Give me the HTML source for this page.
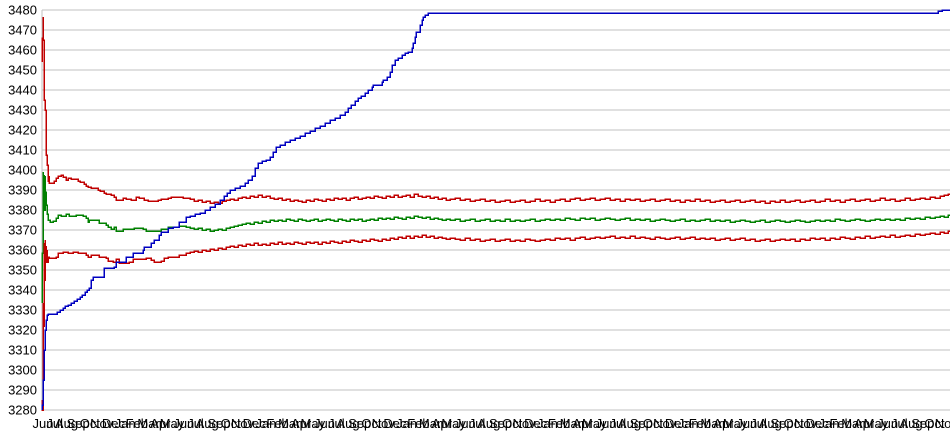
<!DOCTYPE html>
<html>
<head>
<meta charset="utf-8">
<style>
  html, body { margin:0; padding:0; background:#ffffff; }
  body { width:950px; height:435px; overflow:hidden; }
  svg { display:block; }
  .yl { font-family:"Liberation Sans", Arial, sans-serif; font-size:13px; fill:#000; }
  .xl { font-family:"Liberation Sans", Arial, sans-serif; font-size:13px; fill:#000; }
</style>
</head>
<body>
<svg width="950" height="435" viewBox="0 0 950 435" xmlns="http://www.w3.org/2000/svg">
  <rect x="0" y="0" width="950" height="435" fill="#ffffff"/>
  <g stroke="#c0c0c0" stroke-width="1" shape-rendering="crispEdges">
    <line x1="42" y1="10" x2="950" y2="10"/>
    <line x1="42" y1="30" x2="950" y2="30"/>
    <line x1="42" y1="50" x2="950" y2="50"/>
    <line x1="42" y1="70" x2="950" y2="70"/>
    <line x1="42" y1="90" x2="950" y2="90"/>
    <line x1="42" y1="110" x2="950" y2="110"/>
    <line x1="42" y1="130" x2="950" y2="130"/>
    <line x1="42" y1="150" x2="950" y2="150"/>
    <line x1="42" y1="170" x2="950" y2="170"/>
    <line x1="42" y1="190" x2="950" y2="190"/>
    <line x1="42" y1="210" x2="950" y2="210"/>
    <line x1="42" y1="230" x2="950" y2="230"/>
    <line x1="42" y1="250" x2="950" y2="250"/>
    <line x1="42" y1="270" x2="950" y2="270"/>
    <line x1="42" y1="290" x2="950" y2="290"/>
    <line x1="42" y1="310" x2="950" y2="310"/>
    <line x1="42" y1="330" x2="950" y2="330"/>
    <line x1="42" y1="350" x2="950" y2="350"/>
    <line x1="42" y1="370" x2="950" y2="370"/>
    <line x1="42" y1="390" x2="950" y2="390"/>
    <line x1="42" y1="410" x2="950" y2="410"/>
    <line x1="42" y1="10" x2="42" y2="410"/>
  </g>
  <g class="yl" text-anchor="end">
    <text x="37" y="14.5">3480</text>
    <text x="37" y="34.5">3470</text>
    <text x="37" y="54.5">3460</text>
    <text x="37" y="74.5">3450</text>
    <text x="37" y="94.5">3440</text>
    <text x="37" y="114.5">3430</text>
    <text x="37" y="134.5">3420</text>
    <text x="37" y="154.5">3410</text>
    <text x="37" y="174.5">3400</text>
    <text x="37" y="194.5">3390</text>
    <text x="37" y="214.5">3380</text>
    <text x="37" y="234.5">3370</text>
    <text x="37" y="254.5">3360</text>
    <text x="37" y="274.5">3350</text>
    <text x="37" y="294.5">3340</text>
    <text x="37" y="314.5">3330</text>
    <text x="37" y="334.5">3320</text>
    <text x="37" y="354.5">3310</text>
    <text x="37" y="374.5">3300</text>
    <text x="37" y="394.5">3290</text>
    <text x="37" y="414.5">3280</text>
  </g>
  <g class="xl" text-anchor="middle">
    <text x="43.0" y="428">Jun</text><text x="54.7" y="428">Jul</text><text x="66.5" y="428">Aug</text><text x="78.2" y="428">Sep</text><text x="89.9" y="428">Oct</text><text x="101.7" y="428">Nov</text><text x="113.4" y="428">Dec</text><text x="125.1" y="428">Jan</text><text x="136.8" y="428">Feb</text><text x="148.6" y="428">Mar</text><text x="160.3" y="428">Apr</text><text x="172.0" y="428">May</text>
    <text x="183.8" y="428">Jun</text><text x="195.5" y="428">Jul</text><text x="207.2" y="428">Aug</text><text x="219.0" y="428">Sep</text><text x="230.7" y="428">Oct</text><text x="242.4" y="428">Nov</text><text x="254.2" y="428">Dec</text><text x="265.9" y="428">Jan</text><text x="277.6" y="428">Feb</text><text x="289.3" y="428">Mar</text><text x="301.1" y="428">Apr</text><text x="312.8" y="428">May</text>
    <text x="324.5" y="428">Jun</text><text x="336.3" y="428">Jul</text><text x="348.0" y="428">Aug</text><text x="359.7" y="428">Sep</text><text x="371.5" y="428">Oct</text><text x="383.2" y="428">Nov</text><text x="394.9" y="428">Dec</text><text x="406.6" y="428">Jan</text><text x="418.4" y="428">Feb</text><text x="430.1" y="428">Mar</text><text x="441.8" y="428">Apr</text><text x="453.6" y="428">May</text>
    <text x="465.3" y="428">Jun</text><text x="477.0" y="428">Jul</text><text x="488.8" y="428">Aug</text><text x="500.5" y="428">Sep</text><text x="512.2" y="428">Oct</text><text x="524.0" y="428">Nov</text><text x="535.7" y="428">Dec</text><text x="547.4" y="428">Jan</text><text x="559.1" y="428">Feb</text><text x="570.9" y="428">Mar</text><text x="582.6" y="428">Apr</text><text x="594.3" y="428">May</text>
    <text x="606.1" y="428">Jun</text><text x="617.8" y="428">Jul</text><text x="629.5" y="428">Aug</text><text x="641.3" y="428">Sep</text><text x="653.0" y="428">Oct</text><text x="664.7" y="428">Nov</text><text x="676.4" y="428">Dec</text><text x="688.2" y="428">Jan</text><text x="699.9" y="428">Feb</text><text x="711.6" y="428">Mar</text><text x="723.4" y="428">Apr</text><text x="735.1" y="428">May</text>
    <text x="746.8" y="428">Jun</text><text x="758.6" y="428">Jul</text><text x="770.3" y="428">Aug</text><text x="782.0" y="428">Sep</text><text x="793.8" y="428">Oct</text><text x="805.5" y="428">Nov</text><text x="817.2" y="428">Dec</text><text x="828.9" y="428">Jan</text><text x="840.7" y="428">Feb</text><text x="852.4" y="428">Mar</text><text x="864.1" y="428">Apr</text><text x="875.9" y="428">May</text>
    <text x="887.6" y="428">Jun</text><text x="899.3" y="428">Jul</text><text x="911.1" y="428">Aug</text><text x="922.8" y="428">Sep</text><text x="934.5" y="428">Oct</text><text x="946.3" y="428">Nov</text>
  </g>

  <g fill="none" stroke-width="1.5" shape-rendering="crispEdges">
    <path stroke="#c00000" d="M42,62 V38 H43 V17 V40 H44 V100 H45 V110 H46 V113 V155 H47 V165 H48 V181 H49 V176 V183 H51 V183 H54 V181 H56 V178 H58 V176 H61 V175 H63 V177 H66 V180 H68 V178 H71 V179 H78 V181 H80 V182 H84 V184 H86 V186 H88 V187 H91 V188 H98 V190 H100 V191 H104 V193 H106 V194 H111 V195 H114 V197 H116 V200 H123 V198 H126 V199 H131 V200 H136 V197 H139 V198 H144 V200 H148 V201 H158 V200 H161 V199 H168 V198 H171 V197 H178 V197 H183 V198 H186 H190 V199 H194 V201 H198 V200 H202 V202 H206 V201 H210 V203 H214 V202 H218 V203 H222 V201 H226 V200 H230 V199 H234 V200 H238 V198 H242 V197 H246 V198 H250 V196 H254 V197 H258 V195 H262 V197 H266 V196 H270 V198 H274 V199 H278 V198 H282 V200 H286 V199 H290 V201 H294 V200 H298 V201 H302 V202 H306 V200 H310 V201 H314 V199 H318 V200 H322 V201 H326 V199 H330 V200 H334 V198 H338 V199 H342 V198 H346 V200 H350 V198 H354 V197 H358 V199 H362 V198 H366 V197 H370 V198 H374 V196 H378 V197 H382 V198 H386 V196 H390 V197 H394 V195 H398 V197 H402 V196 H406 V195 H410 V197 H414 V194 H418 V196 H422 V197 H426 V196 H430 V198 H434 V197 H438 V199 H442 V198 H446 V200 H450 V199 H455 V198 H460 V200 H465 V199 H470 V201 H475 V200 H480 V199 H485 V201 H490 V200 H495 V202 H500 V201 H505 V200 H510 V202 H515 V201 H520 V200 H525 V202 H530 V201 H535 V199 H540 V201 H545 V200 H550 V202 H555 V200 H560 V199 H565 V201 H570 V199 H575 V198 H580 V200 H585 V199 H590 V198 H595 V200 H600 V199 H605 V198 H610 V200 H615 V199 H620 V201 H625 V199 H630 V200 H635 V199 H640 V201 H645 V200 H650 V199 H655 V201 H660 V200 H665 V199 H670 V201 H675 V200 H680 V202 H685 V200 H690 V201 H695 V199 H700 V201 H705 V200 H710 V202 H715 V201 H720 V200 H725 V202 H730 V201 H735 V200 H740 V202 H745 V201 H750 V200 H755 V202 H760 V201 H765 V203 H770 V201 H775 V202 H780 V200 H785 V202 H790 V201 H795 V200 H800 V202 H805 V201 H810 V200 H815 V202 H820 V201 H825 V199 H830 V201 H835 V200 H840 V202 H845 V200 H850 V199 H855 V201 H860 V200 H865 V199 H870 V201 H875 V200 H880 V198 H885 V200 H890 V199 H895 V201 H900 V200 H905 V198 H910 V200 H915 V199 H920 V198 H925 V199 H930 V197 H935 V198 H940 V196 H944 V195 H948 V194 H950"/>
    <path stroke="#008000" d="M42,303 V253 H43 V172 V206 H44 V175 V210 H45 V176 V192 H46 V193 V205 H47 V206 V214 H48 V220 H50 V222 H53 V221 H56 V218 H58 V215 H61 V216 H63 V216 H66 V214 H69 V216 H76 V215 H83 V216 H86 V218 H88 V222 H89 V220 H98 V220 H99 V223 H106 V225 H108 V227 H111 V229 H114 V227 H116 V231 H123 V229 H129 V229 H134 V228 H139 V228 H143 V229 H146 V231 H158 V231 H161 V229 H168 V227 H176 V227 H179 V226 H186 V227 H190 V228 H194 V229 H198 V228 H202 V230 H206 V229 H210 V231 H214 V230 H218 V229 H222 V230 H226 V228 H230 V227 H234 V226 H238 V225 H242 V224 H246 V223 H250 V224 H254 V222 H258 V223 H262 V221 H266 V222 H270 V220 H274 V221 H278 V220 H282 V221 H286 V219 H290 V220 H294 V221 H298 V219 H302 V220 H306 V221 H310 V220 H314 V219 H318 V221 H322 V220 H326 V219 H330 V220 H334 V221 H338 V219 H342 V220 H346 V221 H350 V219 H354 V220 H358 V219 H362 V221 H366 V220 H370 V219 H374 V220 H378 V218 H382 V219 H386 V218 H390 V219 H394 V217 H398 V218 H402 V219 H406 V217 H410 V218 H414 V216 H418 V217 H422 V218 H426 V217 H430 V219 H434 V218 H438 V219 H442 V220 H446 V219 H450 V220 H455 V219 H460 V221 H465 V220 H470 V219 H475 V221 H480 V220 H485 V219 H490 V221 H495 V220 H500 V221 H505 V219 H510 V221 H515 V220 H520 V221 H525 V220 H530 V219 H535 V221 H540 V220 H545 V219 H550 V220 H555 V219 H560 V220 H565 V218 H570 V219 H575 V220 H580 V218 H585 V219 H590 V218 H595 V220 H600 V219 H605 V218 H610 V219 H615 V220 H620 V219 H625 V218 H630 V220 H635 V219 H640 V220 H645 V219 H650 V221 H655 V220 H660 V219 H665 V220 H670 V221 H675 V220 H680 V219 H685 V221 H690 V220 H695 V221 H700 V220 H705 V219 H710 V221 H715 V220 H720 V221 H725 V220 H730 V222 H735 V221 H740 V220 H745 V221 H750 V222 H755 V221 H760 V220 H765 V222 H770 V221 H775 V220 H780 V221 H785 V222 H790 V221 H795 V220 H800 V221 H805 V222 H810 V221 H815 V220 H820 V221 H825 V220 H830 V221 H835 V219 H840 V220 H845 V221 H850 V220 H855 V219 H860 V220 H865 V221 H870 V220 H875 V219 H880 V220 H885 V219 H890 V220 H895 V219 H900 V220 H905 V218 H910 V219 H915 V218 H920 V219 H925 V217 H930 V218 H935 V217 H940 V216 H944 V217 H948 V215 H950"/>
    <path stroke="#c00000" d="M42,400 V410 H43 V303 V326 H44 V243 V280 H45 V240 V262 H46 V246 V258 H47 V250 V262 H48 V257 H49 V258 H53 V258 H56 V257 H58 V253 H63 V252 H68 V253 H73 V252 H78 V253 H83 V253 H86 V255 H88 V257 H91 V255 H98 V255 H99 V257 H106 V258 H108 V261 H113 V262 H116 V259 H119 V263 H129 V262 H133 V259 H143 V259 H146 V258 H151 V260 H154 V262 H161 V261 H164 V258 H168 V257 H176 V257 H179 V255 H186 V253 H190 V252 H194 V251 H198 V252 H202 V250 H206 V251 H210 V249 H214 V250 H218 V248 H222 V249 H226 V247 H230 V246 H234 V247 H238 V245 H242 V246 H246 V244 H250 V245 H254 V243 H258 V245 H262 V244 H266 V245 H270 V243 H274 V244 H278 V242 H282 V244 H286 V243 H290 V244 H294 V242 H298 V243 H302 V244 H306 V242 H310 V243 H314 V242 H318 V244 H322 V242 H326 V243 H330 V241 H334 V242 H338 V243 H342 V241 H346 V242 H350 V240 H354 V241 H358 V242 H362 V240 H366 V241 H370 V239 H374 V240 H378 V241 H382 V239 H386 V240 H390 V238 H394 V239 H398 V237 H402 V238 H406 V236 H410 V238 H414 V236 H418 V237 H422 V235 H426 V237 H430 V236 H434 V238 H438 V237 H442 V238 H446 V239 H450 V238 H455 V239 H460 V240 H465 V238 H470 V240 H475 V239 H480 V241 H485 V240 H490 V239 H495 V241 H500 V240 H505 V239 H510 V241 H515 V240 H520 V241 H525 V239 H530 V240 H535 V241 H540 V240 H545 V239 H550 V240 H555 V238 H560 V239 H565 V238 H570 V240 H575 V238 H580 V237 H585 V239 H590 V238 H595 V237 H600 V238 H605 V237 H610 V236 H615 V238 H620 V237 H625 V238 H630 V236 H635 V238 H640 V237 H645 V238 H650 V239 H655 V237 H660 V238 H665 V239 H670 V238 H675 V237 H680 V239 H685 V238 H690 V237 H695 V239 H700 V238 H705 V239 H710 V238 H715 V240 H720 V239 H725 V238 H730 V240 H735 V239 H740 V238 H745 V240 H750 V239 H755 V241 H760 V240 H765 V239 H770 V241 H775 V240 H780 V239 H785 V240 H790 V239 H795 V241 H800 V239 H805 V240 H810 V238 H815 V239 H820 V238 H825 V240 H830 V238 H835 V239 H840 V237 H845 V238 H850 V239 H855 V237 H860 V238 H865 V236 H870 V238 H875 V237 H880 V236 H885 V237 H890 V235 H895 V237 H900 V236 H905 V235 H910 V236 H915 V234 H920 V235 H925 V234 H930 V233 H935 V234 H940 V232 H944 V233 H948 V231 H950"/>
    <path stroke="#0000c0" d="M42,410 V405 H43 V380 H44 V350 H45 V330 H46 V320 H47 V315 H48 V314 H57 V312 H60 V310 H63 V308 H65 V306 H68 V305 H71 V303 H74 V301 H77 V299 H80 V297 H82 V295 H85 V292 H87 V290 H89 V288 H91 V280 H93 V277 H104 V273 V268 H114 V267 H116 V262 H126 V257 H133 V253 H143 V250 H144 V247 H151 V243 H154 V240 H159 V235 H161 V232 H168 V228 H173 V227 H179 V222 H186 V217 H190 V216 H195 V214 H200 V213 H205 V210 H210 V207 H215 V204 H220 V200 H224 V196 H227 V193 H230 V190 H235 V188 H240 V186 H245 V183 H248 V180 H252 V176 H255 V168 H258 V163 H262 V161 H266 V160 H270 V157 H273 V152 H276 V147 H280 V145 H285 V142 H290 V140 H295 V138 H300 V136 H305 V133 H310 V131 H315 V128 H320 V126 H325 V123 H330 V120 H335 V118 H340 V115 H345 V112 H348 V108 H351 V105 H355 V101 H358 V98 H361 V96 H365 V93 H368 V90 H372 V87 H373 V85 H382 V82 H383 V80 H387 V77 H390 V72 H392 V65 H395 V60 H398 V58 H402 V55 H405 V53 H408 V52 H412 V48 H413 V43 H415 V37 H416 V32 H420 V25 H422 V20 H423 V17 H425 V15 H428 V13 H432 H938 V11 H942 V10 H950"/>
  </g>
</svg>
</body>
</html>
